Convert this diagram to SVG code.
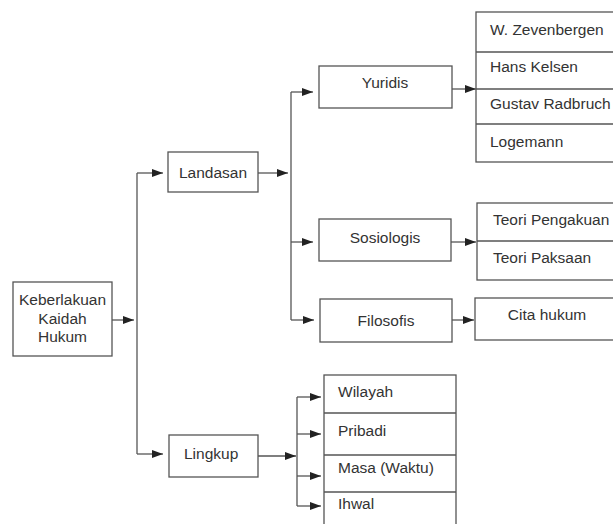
<svg xmlns="http://www.w3.org/2000/svg" width="613" height="524" viewBox="0 0 613 524">
<style>
.box{fill:#fff;stroke:#555;stroke-width:1.3}
.sep{stroke:#555;stroke-width:1.3;fill:none}
.ln{stroke:#555;stroke-width:1.3;fill:none}
.ar{stroke:#555;stroke-width:1.3;fill:none;marker-end:url(#ah)}
text{font-family:"Liberation Sans",Arial,sans-serif;font-size:15.5px;fill:#333}
.c{text-anchor:middle}
</style>
<defs>
<marker id="ah" markerUnits="userSpaceOnUse" markerWidth="12" markerHeight="10" refX="11" refY="4" orient="auto">
<path d="M0,0 L11,4 L0,8 Z" fill="#222"/>
</marker>
</defs>
<rect width="613" height="524" fill="#fff"/>
<g id="connectors">
<path class="ar" d="M112,320 H134"/>
<path class="ln" d="M137,173 V454"/>
<path class="ar" d="M137,173 H163"/>
<path class="ar" d="M137,454 H163"/>
<path class="ar" d="M258,173 H288"/>
<path class="ln" d="M291,92 V320"/>
<path class="ar" d="M291,92 H313"/>
<path class="ar" d="M291,242 H313"/>
<path class="ar" d="M291,320 H314"/>
<path class="ar" d="M452,89 H476"/>
<path class="ar" d="M451,242 H476"/>
<path class="ar" d="M452,320 H474"/>
<path class="ar" d="M258,456 H296"/>
<path class="ln" d="M297,397 V506"/>
<path class="ar" d="M297,397 H321"/>
<path class="ar" d="M297,434 H321"/>
<path class="ar" d="M297,476 H321"/>
<path class="ar" d="M297,506 H321"/>
</g>
<g id="keberlakuan">
<rect class="box" x="13" y="282" width="99" height="74"/>
<text class="c" x="62.5" y="305">Keberlakuan</text>
<text class="c" x="62.5" y="324">Kaidah</text>
<text class="c" x="62.5" y="342">Hukum</text>
</g>
<g id="landasan">
<rect class="box" x="168" y="152" width="90" height="40"/>
<text class="c" x="213" y="178">Landasan</text>
</g>
<g id="lingkup">
<rect class="box" x="169" y="435" width="89" height="42"/>
<text x="184" y="459">Lingkup</text>
</g>
<g id="yuridis">
<rect class="box" x="319" y="66" width="133" height="42"/>
<text class="c" x="385" y="88">Yuridis</text>
</g>
<g id="sosiologis">
<rect class="box" x="319" y="219" width="132" height="42"/>
<text class="c" x="385" y="243">Sosiologis</text>
</g>
<g id="filosofis">
<rect class="box" x="320" y="299" width="132" height="43"/>
<text class="c" x="386" y="326">Filosofis</text>
</g>
<g id="yuridis-list">
<rect class="box" x="476" y="12" width="150" height="150"/>
<path class="sep" d="M476,52 H613 M476,89 H613 M476,124 H613"/>
<text x="490" y="35">W. Zevenbergen</text>
<text x="490" y="72">Hans Kelsen</text>
<text x="490" y="109">Gustav Radbruch</text>
<text x="490" y="147">Logemann</text>
</g>
<g id="sosiologis-list">
<rect class="box" x="477" y="203" width="150" height="77"/>
<path class="sep" d="M477,241 H613"/>
<text x="493" y="225">Teori Pengakuan</text>
<text x="493" y="263">Teori Paksaan</text>
</g>
<g id="filosofis-list">
<rect class="box" x="475" y="298" width="150" height="42"/>
<text class="c" x="547" y="320">Cita hukum</text>
</g>
<g id="lingkup-list">
<rect class="box" x="324" y="375" width="132" height="160"/>
<path class="sep" d="M324,413 H456 M324,455 H456 M324,492 H456"/>
<text x="338" y="397">Wilayah</text>
<text x="338" y="436">Pribadi</text>
<text x="338" y="473">Masa (Waktu)</text>
<text x="338" y="509">Ihwal</text>
</g>
</svg>
